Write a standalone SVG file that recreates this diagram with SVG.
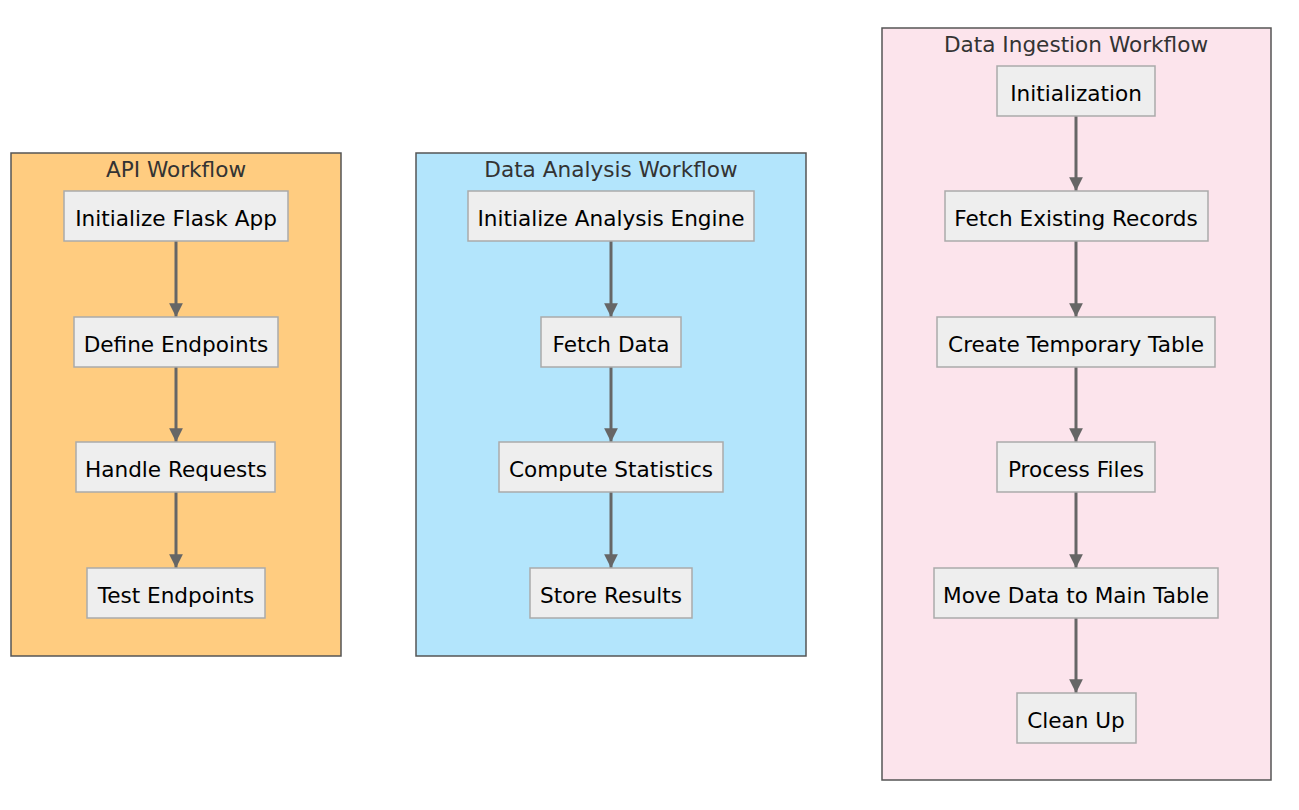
<svg xmlns="http://www.w3.org/2000/svg" width="1299" height="810" viewBox="0 0 1299 810">
<style>
.cl{stroke:#555;stroke-width:1.5}
.ct{font-family:"DejaVu Sans",sans-serif;font-size:21.6px;fill:#333;text-anchor:middle}
.n rect{fill:#eee;stroke:#aaa;stroke-width:1.5}
.n text{font-family:"DejaVu Sans",sans-serif;font-size:21.6px;fill:#000;text-anchor:middle}
.e{stroke:#666;stroke-width:3;fill:none;marker-end:url(#ah)}
</style>
<defs>
<marker id="ah" viewBox="0 0 10 10" refX="10" refY="5" markerWidth="4.6" markerHeight="4.6" markerUnits="strokeWidth" orient="auto"><path d="M0,0L10,5L0,10z" fill="#666"/></marker>
</defs>
<rect width="1299" height="810" fill="#fff"/>
<g id="cluster-api"><rect class="cl" x="11" y="153" width="330" height="503" fill="#FFCC80"/><text class="ct" x="176" y="177">API Workflow</text></g>
<g id="cluster-analysis"><rect class="cl" x="416" y="153" width="390" height="503" fill="#B3E5FC"/><text class="ct" x="611" y="177">Data Analysis Workflow</text></g>
<g id="cluster-ingestion"><rect class="cl" x="882" y="28" width="389" height="752" fill="#FCE4EC"/><text class="ct" x="1076" y="52">Data Ingestion Workflow</text></g>
<g id="edges">
<line class="e" x1="176" y1="241" x2="176" y2="317"/>
<line class="e" x1="176" y1="367" x2="176" y2="442"/>
<line class="e" x1="176" y1="492" x2="176" y2="568"/>
<line class="e" x1="611" y1="241" x2="611" y2="317"/>
<line class="e" x1="611" y1="367" x2="611" y2="442"/>
<line class="e" x1="611" y1="492" x2="611" y2="568"/>
<line class="e" x1="1076" y1="116" x2="1076" y2="191"/>
<line class="e" x1="1076" y1="241" x2="1076" y2="317"/>
<line class="e" x1="1076" y1="367" x2="1076" y2="442"/>
<line class="e" x1="1076" y1="492" x2="1076" y2="568"/>
<line class="e" x1="1076" y1="618" x2="1076" y2="693"/>
</g>
<g id="n-flask" class="n"><rect x="64" y="191" width="224" height="50"/><text x="176" y="225.5">Initialize Flask App</text></g>
<g id="n-endpoints" class="n"><rect x="74" y="317" width="204" height="50"/><text x="176" y="351.5">Define Endpoints</text></g>
<g id="n-requests" class="n"><rect x="76" y="442" width="199" height="50"/><text x="176" y="476.5">Handle Requests</text></g>
<g id="n-test" class="n"><rect x="87" y="568" width="178" height="50"/><text x="176" y="602.5">Test Endpoints</text></g>
<g id="n-engine" class="n"><rect x="468" y="191" width="286" height="50"/><text x="611" y="225.5">Initialize Analysis Engine</text></g>
<g id="n-fetchdata" class="n"><rect x="541" y="317" width="140" height="50"/><text x="611" y="351.5">Fetch Data</text></g>
<g id="n-stats" class="n"><rect x="499" y="442" width="224" height="50"/><text x="611" y="476.5">Compute Statistics</text></g>
<g id="n-store" class="n"><rect x="530" y="568" width="162" height="50"/><text x="611" y="602.5">Store Results</text></g>
<g id="n-init" class="n"><rect x="997" y="66" width="158" height="50"/><text x="1076" y="100.5">Initialization</text></g>
<g id="n-existing" class="n"><rect x="945" y="191" width="263" height="50"/><text x="1076" y="225.5">Fetch Existing Records</text></g>
<g id="n-temp" class="n"><rect x="937" y="317" width="278" height="50"/><text x="1076" y="351.5">Create Temporary Table</text></g>
<g id="n-process" class="n"><rect x="997" y="442" width="158" height="50"/><text x="1076" y="476.5">Process Files</text></g>
<g id="n-move" class="n"><rect x="934" y="568" width="284" height="50"/><text x="1076" y="602.5">Move Data to Main Table</text></g>
<g id="n-clean" class="n"><rect x="1017" y="693" width="119" height="50"/><text x="1076" y="727.5">Clean Up</text></g>
</svg>
